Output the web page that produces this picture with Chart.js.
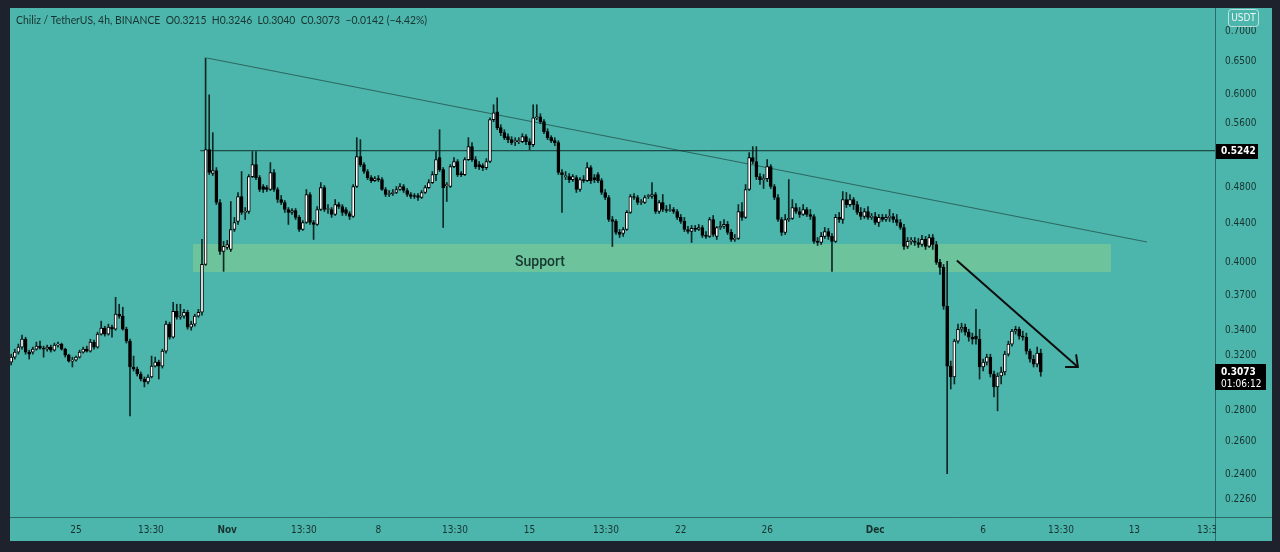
<!DOCTYPE html>
<html><head><meta charset="utf-8">
<script src="https://cdn.jsdelivr.net/npm/chart.js@4.4.1/dist/chart.umd.min.js"></script>
<style>html,body{margin:0;padding:0;background:#1e222d;}canvas{display:block;}</style>
</head><body>
<canvas id="c" width="1280" height="552"></canvas>
<script>
// ---- DATA (4h candles, index 0 = Oct 22 00:00) ----
const opens = [
.3146,.3184,.3223,.3262,.3325,.3223,.3223,.3246,.3270,.3254,
.3246,.3262,.3238,.3278,.3286,.3246,.3199,.3154,.3161,.3184,
.3223,.3246,.3230,.3302,.3262,.3366,.3415,.3366,.3423,.3406,
.3532,.3515,.3406,.3309,.3109,.3094,.3057,.3020,.2999,.3035,
.3116,.3146,.3116,.3230,.3448,.3341,.3557,.3506,.3515,.3549,
.3423,.3448,.3515,.3549,.3983,.5256,.4961,.4997,.4626,.4110,
.4150,.4130,.4334,.4419,.4693,.4516,.4526,.4925,.5069,.4913,
.4808,.4796,.4773,.4973,.4773,.4659,.4626,.4548,.4516,.4537,
.4462,.4334,.4408,.4716,.4408,.4387,.4548,.4796,.4548,.4548,
.4494,.4603,.4581,.4548,.4505,.4472,.4808,.5168,.5069,.4985,
.4913,.4877,.4901,.4889,.4773,.4716,.4727,.4739,.4773,.4808,
.4762,.4716,.4705,.4705,.4682,.4739,.4796,.4854,.4949,.5156,
.5009,.4819,.4808,.5045,.5107,.4961,.4949,.5131,.5294,.5131,
.5069,.5057,.5033,.5107,.5650,.5759,.5542,.5476,.5423,.5384,
.5358,.5358,.5358,.5423,.5358,.5320,.5677,.5691,.5623,.5489,
.5410,.5371,.5345,.4973,.4925,.4925,.4889,.4913,.4773,.4889,
.4877,.5033,.4913,.4949,.4877,.4739,.4682,.4440,.4419,.4303,
.4292,.4334,.4516,.4693,.4682,.4626,.4626,.4693,.4693,.4716,
.4526,.4626,.4548,.4537,.4548,.4526,.4462,.4419,.4334,.4313,
.4345,.4334,.4355,.4272,.4262,.4440,.4262,.4355,.4366,.4387,
.4303,.4231,.4241,.4526,.4462,.4773,.5156,.5107,.4925,.4889,
.4901,.5045,.4808,.4682,.4440,.4303,.4440,.4451,.4570,.4526,
.4494,.4548,.4494,.4472,.4211,.4200,.4262,.4313,.4262,.4211,
.4462,.4440,.4659,.4603,.4659,.4603,.4516,.4472,.4526,.4462,
.4472,.4408,.4462,.4440,.4462,.4472,.4440,.4408,.4355,.4160,
.4211,.4215,.4200,.4180,.4231,.4160,.4251,.4180,.4003,.3955,
.3601,.3116,.3035,.3309,.3406,.3423,.3382,.3341,.3350,.3325,
.3109,.3146,.3184,.3057,.2963,.3042,.3072,.3207,.3286,.3390,
.3406,.3350,.3341,.3230,.3169,.3131,.3215];
const highs = [
.3207,.3246,.3286,.3358,.3341,.3238,.3262,.3302,.3309,.3270,
.3278,.3278,.3294,.3302,.3294,.3254,.3207,.3184,.3192,.3238,
.3262,.3270,.3325,.3317,.3382,.3473,.3431,.3448,.3440,.3679,
.3618,.3592,.3423,.3325,.3192,.3109,.3072,.3035,.3050,.3192,
.3184,.3161,.3246,.3473,.3465,.3635,.3618,.3618,.3574,.3566,
.3473,.3532,.3574,.4231,.6558,.6000,.5476,.5033,.4659,.4211,
.4221,.4637,.4462,.4739,.4985,.4570,.4949,.5231,.5231,.4937,
.4831,.4819,.5094,.5009,.4796,.4705,.4648,.4570,.4559,.4559,
.4483,.4429,.4773,.4739,.4429,.4581,.4854,.4819,.4603,.4570,
.4659,.4626,.4603,.4570,.4526,.4831,.5410,.5384,.5094,.5009,
.4937,.4925,.4937,.4913,.4796,.4762,.4773,.4808,.4843,.4831,
.4785,.4739,.4727,.4727,.4762,.4819,.4889,.4985,.5231,.5515,
.5033,.4854,.5069,.5156,.5131,.4985,.5156,.5410,.5345,.5168,
.5107,.5081,.5143,.5677,.5858,.5957,.5582,.5515,.5462,.5423,
.5410,.5410,.5462,.5449,.5397,.5858,.5858,.5732,.5650,.5528,
.5436,.5410,.5371,.5009,.4985,.4961,.4949,.4937,.4913,.4937,
.5094,.5057,.4949,.4973,.4901,.4773,.4705,.4472,.4440,.4334,
.4355,.4537,.4716,.4727,.4705,.4659,.4705,.4716,.4854,.4739,
.4648,.4716,.4592,.4603,.4570,.4548,.4494,.4462,.4366,.4376,
.4376,.4387,.4376,.4313,.4462,.4483,.4366,.4419,.4440,.4419,
.4334,.4282,.4603,.4626,.4831,.5218,.5294,.5294,.4961,.4949,
.5131,.5069,.4831,.4716,.4462,.4494,.4889,.4659,.4614,.4570,
.4603,.4570,.4548,.4494,.4251,.4303,.4355,.4345,.4292,.4494,
.4516,.4750,.4739,.4716,.4682,.4637,.4570,.4559,.4581,.4505,
.4516,.4494,.4494,.4494,.4548,.4505,.4494,.4440,.4387,.4251,
.4251,.4251,.4241,.4272,.4262,.4282,.4282,.4211,.4032,.3983,
.4012,.3154,.3325,.3448,.3456,.3448,.3406,.3374,.3574,.3406,
.3169,.3207,.3207,.3079,.3065,.3109,.3230,.3309,.3406,.3431,
.3423,.3390,.3374,.3246,.3199,.3262,.3246];
const lows = [
.3124,.3169,.3207,.3246,.3207,.3169,.3207,.3238,.3246,.3184,
.3230,.3223,.3230,.3262,.3238,.3184,.3146,.3109,.3154,.3177,
.3215,.3223,.3223,.3246,.3254,.3358,.3350,.3358,.3341,.3398,
.3498,.3398,.3294,.2763,.3079,.3042,.3006,.2963,.2984,.3028,
.3109,.3020,.3101,.3215,.3325,.3333,.3489,.3489,.3498,.3406,
.3398,.3431,.3506,.3523,.3974,.4949,.4937,.4603,.4081,.3917,
.4130,.4110,.4313,.4387,.4494,.4440,.4505,.4913,.4889,.4750,
.4739,.4750,.4762,.4750,.4626,.4603,.4516,.4387,.4494,.4440,
.4313,.4324,.4398,.4387,.4231,.4376,.4537,.4526,.4505,.4462,
.4483,.4559,.4483,.4483,.4440,.4462,.4796,.5045,.4961,.4889,
.4854,.4866,.4866,.4762,.4693,.4693,.4705,.4727,.4762,.4739,
.4693,.4671,.4671,.4648,.4671,.4727,.4785,.4843,.4877,.4985,
.4355,.4637,.4796,.5033,.4925,.4925,.4937,.5119,.5107,.5021,
.5009,.4997,.5009,.5094,.5623,.5515,.5436,.5384,.5345,.5320,
.5307,.5332,.5345,.5320,.5256,.5294,.5650,.5596,.5462,.5384,
.5345,.5307,.4949,.4516,.4889,.4854,.4866,.4739,.4750,.4854,
.4866,.4843,.4854,.4854,.4716,.4659,.4419,.4160,.4282,.4251,
.4262,.4324,.4505,.4659,.4603,.4603,.4614,.4671,.4671,.4505,
.4505,.4526,.4516,.4526,.4505,.4440,.4398,.4313,.4292,.4200,
.4313,.4324,.4251,.4241,.4251,.4262,.4231,.4334,.4345,.4282,
.4211,.4211,.4231,.4429,.4451,.4762,.5081,.4889,.4831,.4785,
.4866,.4785,.4659,.4419,.4272,.4282,.4419,.4440,.4505,.4462,
.4483,.4472,.4440,.4190,.4170,.4180,.4241,.4231,.3917,.4200,
.4408,.4398,.4570,.4581,.4548,.4494,.4440,.4451,.4440,.4440,
.4387,.4366,.4419,.4419,.4419,.4408,.4376,.4334,.4130,.4140,
.4180,.4170,.4150,.4160,.4130,.4150,.4130,.3983,.3889,.3574,
.2403,.2948,.2984,.3294,.3382,.3358,.3309,.3286,.3286,.3020,
.3079,.3124,.3035,.2892,.2797,.2984,.3050,.3192,.3270,.3366,
.3325,.3317,.3207,.3146,.3109,.3109,.3040];
const closes = [
.3184,.3223,.3262,.3325,.3223,.3207,.3246,.3270,.3254,.3246,
.3262,.3238,.3278,.3286,.3246,.3199,.3154,.3161,.3184,.3223,
.3246,.3230,.3302,.3262,.3366,.3415,.3366,.3423,.3406,.3532,
.3515,.3406,.3309,.3109,.3094,.3057,.3020,.2999,.3035,.3116,
.3146,.3116,.3230,.3448,.3341,.3557,.3506,.3515,.3549,.3423,
.3448,.3515,.3549,.3983,.5256,.4973,.4997,.4626,.4110,.4160,
.4180,.4334,.4408,.4693,.4516,.4526,.4925,.5069,.4913,.4773,
.4773,.4773,.4973,.4773,.4659,.4626,.4548,.4516,.4537,.4462,
.4334,.4408,.4716,.4408,.4387,.4548,.4796,.4548,.4552,.4494,
.4603,.4581,.4516,.4505,.4472,.4808,.5168,.5069,.4985,.4913,
.4877,.4901,.4889,.4773,.4716,.4727,.4739,.4773,.4808,.4762,
.4716,.4693,.4693,.4682,.4739,.4796,.4854,.4949,.5131,.5009,
.4796,.4831,.5045,.5107,.4949,.4949,.5131,.5294,.5131,.5045,
.5045,.5033,.5107,.5650,.5745,.5542,.5476,.5410,.5384,.5345,
.5365,.5371,.5423,.5358,.5320,.5677,.5691,.5623,.5489,.5410,
.5371,.5345,.4973,.4949,.4931,.4889,.4925,.4773,.4889,.4877,
.5033,.4877,.4889,.4877,.4739,.4682,.4440,.4419,.4303,.4282,
.4334,.4516,.4693,.4682,.4626,.4637,.4682,.4698,.4716,.4526,
.4626,.4548,.4537,.4548,.4526,.4462,.4419,.4334,.4313,.4345,
.4334,.4355,.4272,.4262,.4440,.4282,.4355,.4366,.4387,.4303,
.4231,.4241,.4526,.4462,.4773,.5156,.5107,.4925,.4889,.4901,
.5045,.4808,.4682,.4440,.4303,.4440,.4451,.4570,.4526,.4494,
.4548,.4494,.4472,.4211,.4200,.4262,.4313,.4262,.4211,.4462,
.4440,.4659,.4603,.4659,.4603,.4516,.4472,.4526,.4462,.4472,
.4408,.4462,.4440,.4462,.4472,.4440,.4408,.4355,.4160,.4211,
.4215,.4200,.4180,.4231,.4160,.4251,.4180,.4003,.3955,.3601,
.3116,.3035,.3309,.3406,.3423,.3382,.3341,.3325,.3325,.3109,
.3146,.3184,.3057,.2963,.3042,.3072,.3207,.3286,.3390,.3406,
.3350,.3341,.3230,.3169,.3131,.3215,.3073];

const yTicks = [0.70, 0.65, 0.60, 0.56, 0.48, 0.44, 0.40, 0.37, 0.34, 0.32, 0.28, 0.26, 0.24, 0.226];
const xTickPos = [18, 38.8, 60, 81.3, 102, 123.3, 144, 165.2, 186, 210, 240, 270, 291.6, 312, 333];
const xTickLabels = ['25','13:30','Nov','13:30','8','13:30','15','13:30','22','26','Dec','6','13:30','13','13:30'];

const resistanceLevel = 0.5242;
const resistanceFrom = 52.5;
const trendX = [54.4, 315.5];
const trendY = [0.6558, 0.4205];
const arrowX = [262.7, 296.3];
const arrowY = [0.4022, 0.3109];
const supportX = [50.5, 305.5];
const supportY = [0.3911, 0.4185];
const supportLabel = 'Support';
const supportLabelX = 146.9;
const supportLabelY = 0.4003;
const lastPrice = 0.3073;
const countdown = '01:06:12';
const titleText = 'Chiliz / TetherUS, 4h, BINANCE  O0.3215  H0.3246  L0.3040  C0.3073  \u22120.0142 (\u22124.42%)';

// ---- STYLE ----
const FRAME = '#1e222d', BG = '#4db6ac', BAND = '#6dc39c', INK = '#17332f';
const X_MIN = -0.333, X_MAX = 334.4, Y_MIN = 0.21641, Y_MAX = 0.73999;

function hasFont(name){
  const c = document.createElement('canvas').getContext('2d');
  const s = '0.6500 Chiliz TetherUS';
  c.font = '20px monospace'; const a = c.measureText(s).width;
  c.font = '20px "' + name + '", monospace'; const b = c.measureText(s).width;
  return Math.abs(a - b) > 0.5;
}
let FONT = 'Roboto';
for (const f of ['Liberation Sans Narrow', 'DejaVu Sans Condensed', 'Roboto']) { if (hasFont(f)) { FONT = f; break; } }
const HEAD_FONT = hasFont('Lato') ? 'Lato' : 'Roboto';

const idx = closes.map((_, i) => i);
const bodies = idx.map(i => ({x: i, y: [opens[i], closes[i]]}));
const wicks = idx.map(i => ({x: i, y: [lows[i], highs[i]]}));
const bodyFill = idx.map(i => closes[i] >= opens[i] ? '#ffffff' : '#000000');

const decor = {
  id: 'decor',
  beforeDraw(chart){
    const c = chart.ctx; c.save();
    c.fillStyle = FRAME; c.fillRect(0, 0, chart.width, chart.height);
    c.fillStyle = BG; c.fillRect(10, 8, 1262, 533);
    c.restore();
  },
  afterDatasetsDraw(chart){
    const c = chart.ctx, xs = chart.scales.x, ys = chart.scales.y;
    const x0 = xs.getPixelForValue(arrowX[0]), y0 = ys.getPixelForValue(arrowY[0]);
    const x1 = xs.getPixelForValue(arrowX[1]), y1 = ys.getPixelForValue(arrowY[1]);
    const ang = Math.atan2(y1 - y0, x1 - x0), L = 12;
    c.save();
    c.strokeStyle = '#0d0d0d'; c.lineWidth = 2; c.lineCap = 'round';
    c.beginPath();
    c.moveTo(x1 - L * Math.cos(ang - Math.PI / 4.4), y1 - L * Math.sin(ang - Math.PI / 4.4));
    c.lineTo(x1, y1);
    c.lineTo(x1 - L * Math.cos(ang + Math.PI / 4.4), y1 - L * Math.sin(ang + Math.PI / 4.4));
    c.stroke();
    c.fillStyle = '#17372f'; c.font = '500 14px Roboto';
    c.textAlign = 'center'; c.textBaseline = 'middle';
    c.fillText(supportLabel, xs.getPixelForValue(supportLabelX), ys.getPixelForValue(supportLabelY));
    c.restore();
  },
  afterDraw(chart){
    const c = chart.ctx, ys = chart.scales.y;
    c.save();
    c.fillStyle = BG; c.fillRect(1216, 518, 56, 23);
    c.strokeStyle = 'rgba(25,70,64,0.65)'; c.lineWidth = 1;
    c.beginPath(); c.moveTo(10, 517.5); c.lineTo(1272, 517.5); c.stroke();
    c.beginPath(); c.moveTo(1215.5, 8); c.lineTo(1215.5, 541); c.stroke();
    const pr = Math.round(ys.getPixelForValue(resistanceLevel));
    c.fillStyle = '#000'; c.fillRect(1216, pr - 7, 42, 15);
    c.fillStyle = '#fff'; c.font = 'bold 10px ' + FONT; c.textBaseline = 'middle'; c.textAlign = 'left';
    c.fillText(resistanceLevel.toFixed(4), 1221, pr);
    const pl = Math.round(ys.getPixelForValue(lastPrice));
    c.fillStyle = '#000'; c.fillRect(1215, pl - 8, 51, 26);
    c.fillStyle = '#fff'; c.font = 'bold 10px ' + FONT;
    c.fillText(lastPrice.toFixed(4), 1221, pl);
    c.font = '10px ' + FONT;
    c.fillText(countdown, 1221, pl + 12);
    c.fillStyle = BG;
    c.beginPath(); c.roundRect(1228.5, 9.5, 30, 17, 3); c.fill();
    c.strokeStyle = 'rgba(225,240,238,0.75)'; c.stroke();
    c.fillStyle = '#eef7f5'; c.font = '10px ' + FONT; c.textAlign = 'center';
    c.fillText('USDT', 1243.5, 18.5);
    c.fillStyle = INK; c.font = '12px ' + HEAD_FONT; c.textAlign = 'left';
    const w = c.measureText(titleText).width, target = 411;
    c.translate(16, 20); c.scale(target / w, 1);
    c.fillText(titleText, 0, 0);
    c.restore();
  }
};

new Chart(document.getElementById('c'), {
  type: 'bar',
  data: {
    datasets: [
      { label: 'body', data: bodies, backgroundColor: bodyFill, borderColor: '#000', borderWidth: 1,
        borderSkipped: false, barThickness: 3, minBarLength: 1, grouped: false, order: 0 },
      { label: 'wick', data: wicks, backgroundColor: '#0c2623', borderWidth: 0,
        barThickness: 1, grouped: false, order: 1 },
      { type: 'line', label: 'resistance', data: [{x: resistanceFrom, y: resistanceLevel}, {x: X_MAX, y: resistanceLevel}],
        borderColor: '#10302b', borderWidth: 1, pointRadius: 0, order: 2 },
      { type: 'line', label: 'trend', data: trendX.map((v, i) => ({x: v, y: trendY[i]})),
        borderColor: '#2c6861', borderWidth: 1.2, pointRadius: 0, order: 3 },
      { type: 'line', label: 'arrow', data: arrowX.map((v, i) => ({x: v, y: arrowY[i]})),
        borderColor: '#0d0d0d', borderWidth: 2, pointRadius: 0, order: 2 },
      { type: 'line', label: 'support', data: supportX.map(v => ({x: v, y: supportY[1]})),
        fill: {value: supportY[0]}, backgroundColor: BAND, borderColor: 'rgba(0,0,0,0)', borderWidth: 0,
        pointRadius: 0, order: 9 }
    ]
  },
  options: {
    responsive: false, animation: false, events: [],
    layout: { padding: {left: 10, top: 8, right: 8, bottom: 11} },
    plugins: { legend: {display: false}, tooltip: {enabled: false}, filler: {drawTime: 'beforeDatasetsDraw'} },
    scales: {
      x: {
        type: 'linear', min: X_MIN, max: X_MAX, offset: false,
        grid: {display: true, drawOnChartArea: false, drawTicks: true, tickLength: 7, color: 'rgba(0,0,0,0)', offset: false},
        border: {display: false},
        afterBuildTicks: s => { s.ticks = xTickPos.map(v => ({value: v})); },
        afterFit: s => { s.height = 24; },
        ticks: {
          autoSkip: false, maxRotation: 0, minRotation: 0, padding: 0, color: INK,
          font: ctx => ({family: FONT, size: 10,
            weight: (xTickLabels[ctx.index] === 'Nov' || xTickLabels[ctx.index] === 'Dec') ? 'bold' : 'normal'}),
          callback: (v, i) => xTickLabels[i]
        }
      },
      y: {
        type: 'logarithmic', position: 'right', min: Y_MIN, max: Y_MAX,
        grid: {display: true, drawOnChartArea: false, drawTicks: true, tickLength: 10, color: 'rgba(0,0,0,0)'},
        border: {display: false},
        afterBuildTicks: s => { s.ticks = yTicks.map(v => ({value: v})); },
        afterFit: s => { s.width = 57; },
        ticks: { padding: 0, color: INK, font: {family: FONT, size: 10},
          callback: v => Number(v).toFixed(4) }
      }
    }
  },
  plugins: [decor]
});
</script>
</body></html>
